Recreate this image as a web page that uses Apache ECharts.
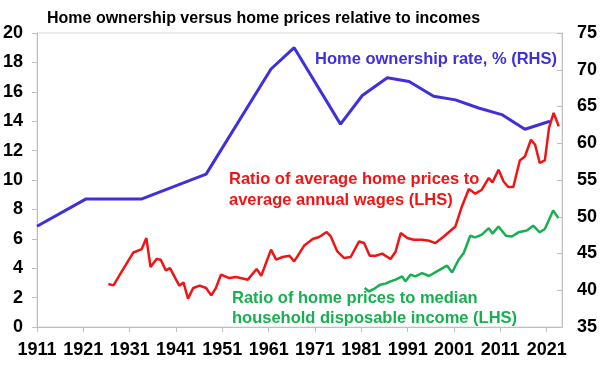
<!DOCTYPE html>
<html>
<head>
<meta charset="utf-8">
<script src="https://cdn.jsdelivr.net/npm/echarts@6/dist/echarts.min.js"></script>
<style>html,body{margin:0;padding:0;background:#fff}#c{width:600px;height:365px}</style>
</head>
<body>
<div id="c"></div>
<script>
// X-axis tick labels (years)
var xLabels = [1911, 1921, 1931, 1941, 1951, 1961, 1971, 1981, 1991, 2001, 2011, 2021];

// Home ownership rate, % (RHS)
var ownYears = [1911, 1921.5, 1933.5, 1947.5, 1961.5, 1966.5, 1976.5, 1981.2, 1986.6, 1991.3, 1996.6, 2001.3, 2006.3, 2011.3, 2016.3, 2021.7];
var ownValues = [48.7, 52.4, 52.4, 55.8, 70.1, 73.0, 62.6, 66.5, 68.9, 68.4, 66.4, 65.9, 64.8, 63.9, 61.9, 63.0];

// Ratio of average home prices to average annual wages (LHS)
var wageYears = [1926.4, 1927.5, 1929.3, 1931.8, 1933.6, 1934.6, 1935.5, 1936.8, 1937.7, 1938.8, 1939.7, 1941.7, 1942.6, 1943.6, 1944.7, 1946.1, 1947.5, 1948.6, 1949.6, 1950.7, 1952.5, 1954.0, 1956.5, 1958.4, 1959.4, 1961.5, 1962.6, 1964.0, 1965.5, 1966.5, 1968.7, 1970.5, 1971.9, 1973.5, 1974.4, 1975.8, 1977.3, 1978.7, 1980.5, 1981.6, 1982.8, 1984.1, 1985.5, 1987.3, 1988.4, 1989.5, 1990.9, 1992.3, 1994.1, 1995.6, 1997.0, 1998.8, 2001.3, 2002.7, 2004.2, 2005.6, 2007.0, 2008.5, 2009.3, 2010.6, 2011.7, 2012.7, 2013.8, 2015.2, 2016.3, 2017.6, 2018.5, 2019.5, 2020.6, 2021.5, 2022.5, 2023.6];
var wageValues = [2.93, 2.83, 3.78, 5.07, 5.30, 6.05, 4.08, 4.63, 4.58, 3.85, 4.01, 2.81, 3.03, 1.93, 2.65, 2.81, 2.65, 2.15, 2.65, 3.56, 3.33, 3.40, 3.22, 3.95, 3.49, 5.26, 4.58, 4.76, 4.85, 4.46, 5.55, 5.99, 6.12, 6.46, 6.16, 5.14, 4.69, 4.76, 5.82, 5.71, 4.85, 4.85, 4.99, 4.63, 5.14, 6.39, 6.05, 5.94, 5.94, 5.87, 5.71, 6.16, 6.84, 8.20, 9.39, 9.07, 9.34, 10.14, 9.84, 10.70, 9.90, 9.52, 9.52, 11.33, 11.60, 12.74, 12.40, 11.16, 11.33, 13.54, 14.56, 13.65];

// Ratio of home prices to median household disposable income (LHS)
var incYears = [1981.7, 1982.7, 1984.0, 1985.1, 1986.2, 1987.3, 1988.4, 1989.8, 1990.5, 1991.6, 1992.6, 1994.1, 1995.6, 1997.3, 1999.5, 2000.6, 2002.0, 2003.1, 2004.5, 2005.6, 2007.0, 2008.5, 2009.3, 2010.6, 2012.2, 2013.5, 2014.9, 2016.7, 2018.1, 2019.5, 2020.6, 2022.4, 2023.5];
var incValues = [2.65, 2.42, 2.65, 2.88, 2.95, 3.10, 3.22, 3.44, 3.10, 3.56, 3.44, 3.67, 3.47, 3.78, 4.17, 3.71, 4.58, 5.03, 6.21, 6.10, 6.28, 6.73, 6.35, 6.84, 6.21, 6.16, 6.44, 6.57, 6.89, 6.44, 6.67, 7.93, 7.41];

function pairs(xs, ys) { return xs.map(function (x, i) { return [x, ys[i]]; }); }

var BLUE = '#3f2fdc', RED = '#f01414', GREEN = '#17b050';
var FONT = 'Liberation Sans, Arial, sans-serif';
var axisLabelStyle = { color: '#000', fontSize: 18, fontWeight: 'bold', fontFamily: FONT };

var chart = echarts.init(document.getElementById('c'), null, { renderer: 'canvas' });
chart.setOption({
  animation: false,
  backgroundColor: '#fff',
  title: {
    text: 'Home ownership versus home prices relative to incomes',
    left: 42, top: 6,
    textStyle: { color: '#000', fontSize: 16, fontWeight: 'bold', fontFamily: FONT }
  },
  grid: { left: 37, right: 37, top: 33, bottom: 38, show: true, borderColor: '#d9d9d9', borderWidth: 1 },
  xAxis: {
    type: 'value', min: 1911, max: 2024.3,
    splitLine: { show: false },
    axisLine: { show: true, lineStyle: { color: '#bfbfbf' } },
    axisTick: { show: true, customValues: xLabels, length: 5, lineStyle: { color: '#bfbfbf' } },
    axisLabel: Object.assign({ customValues: xLabels, margin: 14, formatter: function (v) { return String(v); } }, axisLabelStyle)
  },
  yAxis: [
    {
      type: 'value', min: 0, max: 20, interval: 2,
      splitLine: { show: false },
      axisLine: { show: true, lineStyle: { color: '#bfbfbf' } },
      axisTick: { show: true, length: 5, lineStyle: { color: '#bfbfbf' } },
      axisLabel: Object.assign({ margin: 14 }, axisLabelStyle)
    },
    {
      type: 'value', min: 35, max: 75, interval: 5, position: 'right',
      splitLine: { show: false },
      axisLine: { show: true, lineStyle: { color: '#bfbfbf' } },
      axisTick: { show: true, inside: true, length: 5, lineStyle: { color: '#bfbfbf' } },
      axisLabel: Object.assign({ margin: 15 }, axisLabelStyle)
    }
  ],
  series: [
    { name: 'Home ownership rate', type: 'line', yAxisIndex: 1, data: pairs(ownYears, ownValues), showSymbol: false, lineStyle: { color: BLUE, width: 3 }, itemStyle: { color: BLUE } },
    { name: 'Price to wages', type: 'line', yAxisIndex: 0, data: pairs(wageYears, wageValues), showSymbol: false, lineStyle: { color: RED, width: 2.5 }, itemStyle: { color: RED } },
    { name: 'Price to income', type: 'line', yAxisIndex: 0, data: pairs(incYears, incValues), showSymbol: false, lineStyle: { color: GREEN, width: 2.5 }, itemStyle: { color: GREEN } }
  ],
  graphic: [
    { type: 'text', left: 315, top: 51, style: { text: 'Home ownership rate, % (RHS)', fill: BLUE, font: 'bold 16.5px ' + FONT } },
    { type: 'text', left: 229, top: 169, style: { text: 'Ratio of average home prices to\naverage annual wages (LHS)', fill: RED, font: 'bold 16.5px ' + FONT, lineHeight: 21 } },
    { type: 'text', left: 232, top: 288, style: { text: 'Ratio of home prices to median\nhousehold disposable income (LHS)', fill: GREEN, font: 'bold 16.5px ' + FONT, lineHeight: 20 } }
  ]
});
</script>
</body>
</html>
